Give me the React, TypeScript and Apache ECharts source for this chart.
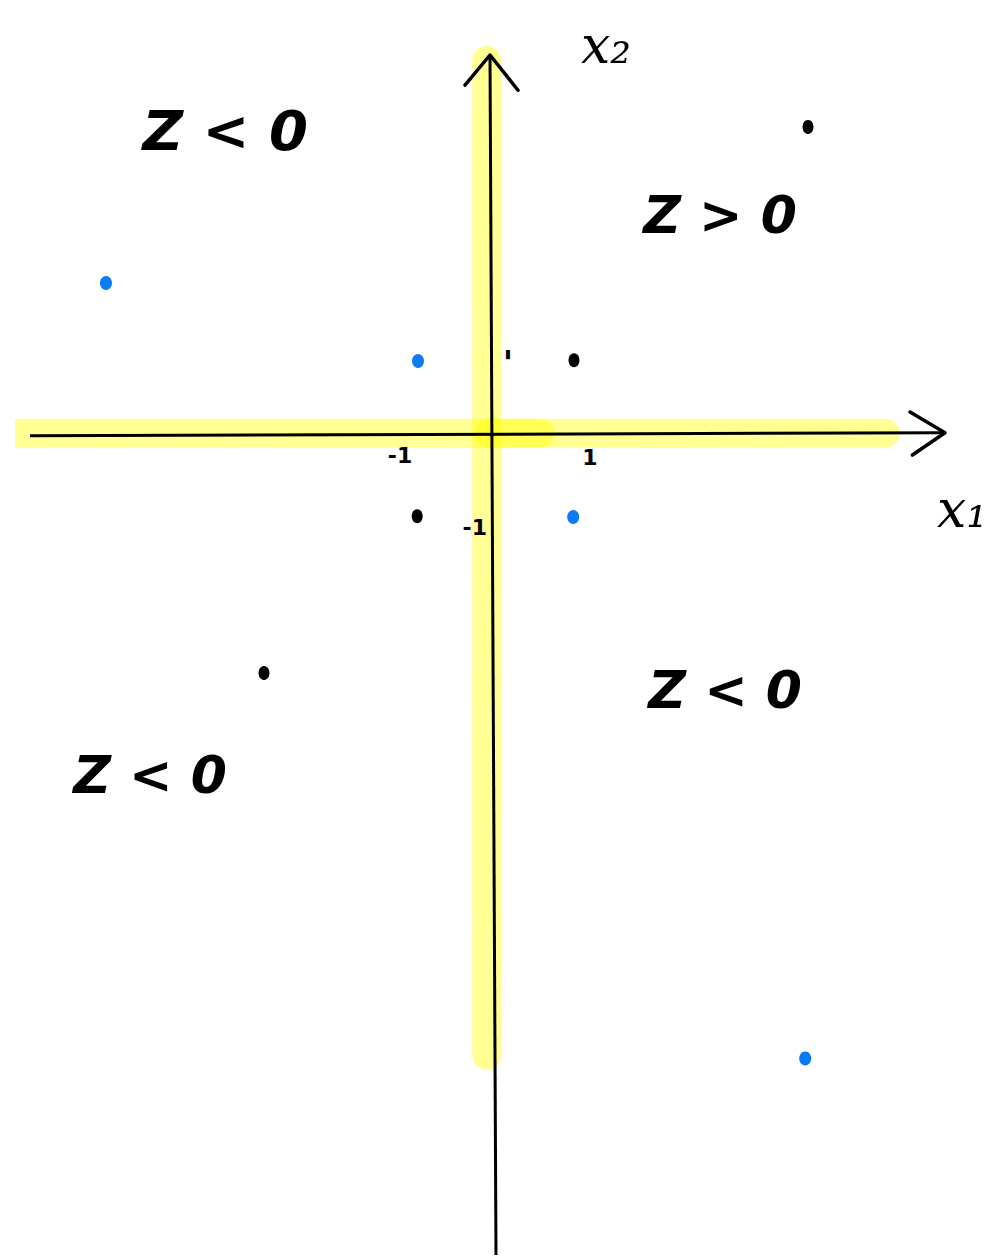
import React, { useEffect, useRef } from "react";
import * as echarts from "echarts";

// Axis extents (data units)
const xRange = [-5.75, 5.6875];
const yRange = [-10.51, 4.872];

// Data points
const blackPoints = [
  [3.975, 3.95],
  [1.05, 0.96],
  [-0.91, -1.04],
  [-2.825, -3.05],
];
const bluePoints = [
  [-4.8, 1.95],
  [-0.9, 0.95],
  [1.04, -1.05],
  [3.94, -7.99],
];

// Axis lines and arrows
const xAxisLine = [[-5.75, -0.01], [5.6875, 0.03]];
const yAxisLine = [[0.075, -10.51], [0, 4.872]];
const xArrow = [[5.25, 0.295], [5.6875, 0.03], [5.28, -0.256]];
const yArrow = [[-0.3125, 4.487], [0, 4.872], [0.35, 4.42]];

// Yellow highlighter strokes
const highlightV = [[-0.04, 4.8], [-0.04, -7.95]];
const highlightH1 = [[-5.95, 0.025], [0.63, 0.025]];
const highlightH2 = [[0.0, 0.025], [4.94, 0.025]];

// Tick labels
const tickLabels = [
  { value: [-1.125, -0.26], text: "-1", size: 22 },
  { value: [1.25, -0.29], text: "1", size: 22 },
  { value: [-0.19, -1.18], text: "-1", size: 22 },
  { value: [0.225, 0.92], text: "'", size: 34 },
];

// Region annotations
const regionLabels = [
  { value: [-3.31, 3.91], text: "Z < 0", size: 56 },
  { value: [2.875, 2.82], text: "Z > 0", size: 52 },
  { value: [2.94, -3.27], text: "Z < 0", size: 52 },
  { value: [-4.25, -4.36], text: "Z < 0", size: 52 },
];

// Axis names
const axisNames = [
  { value: [5.9, -0.95], text: "x₁", size: 52 },
  { value: [1.45, 5.0], text: "x₂", size: 52 },
];

const highlightStyle = {
  color: "rgba(255,255,0,0.42)",
  width: 29,
  cap: "round" as const,
};

function lineSeries(data: number[][], style: any, z: number) {
  return {
    type: "line",
    data,
    symbol: "none",
    clip: false,
    silent: true,
    z,
    lineStyle: style,
  };
}

function textSeries(items: { value: number[]; text: string; size: number }[], extra: any = {}) {
  return {
    type: "scatter",
    symbolSize: 0,
    clip: false,
    silent: true,
    z: 10,
    itemStyle: { opacity: 1, color: "#000" },
    data: items.map((d) => ({ value: d.value, name: d.text, label: { fontSize: d.size } })),
    label: {
      show: true,
      position: "inside",
      formatter: (p: any) => p.name,
      color: "#000000",
      opacity: 1,
      fontFamily: "DejaVu Sans",
      fontWeight: "bold",
      ...extra,
    },
  };
}

export default function App() {
  const ref = useRef<HTMLDivElement>(null);
  useEffect(() => {
    if (!ref.current) return;
    const chart = echarts.init(ref.current, null, { renderer: "svg" });
    const hiddenAxis = {
      type: "value",
      axisLine: { show: false },
      axisTick: { show: false },
      axisLabel: { show: false },
      splitLine: { show: false },
    };
    chart.setOption({
      animation: false,
      backgroundColor: "#ffffff",
      grid: { left: 30, right: 55, top: 55, bottom: 4 },
      xAxis: { ...hiddenAxis, min: xRange[0], max: xRange[1] },
      yAxis: { ...hiddenAxis, min: yRange[0], max: yRange[1] },
      series: [
        lineSeries(highlightV, highlightStyle, 1),
        lineSeries(highlightH1, highlightStyle, 1),
        lineSeries(highlightH2, highlightStyle, 1),
        lineSeries(xAxisLine, { color: "#000", width: 3 }, 5),
        lineSeries(yAxisLine, { color: "#000", width: 3 }, 5),
        lineSeries(xArrow, { color: "#000", width: 3.5, cap: "round", join: "round" }, 5),
        lineSeries(yArrow, { color: "#000", width: 3.5, cap: "round", join: "round" }, 5),
        {
          type: "scatter",
          data: blackPoints,
          symbol: "circle",
          symbolSize: [11, 14],
          itemStyle: { color: "#000000", opacity: 1 },
          z: 8,
        },
        {
          type: "scatter",
          data: bluePoints,
          symbol: "circle",
          symbolSize: [12, 14],
          itemStyle: { color: "#0A7BF2", opacity: 1 },
          z: 8,
        },
        textSeries(tickLabels),
        textSeries(regionLabels, { fontStyle: "italic" }),
        textSeries(axisNames, { fontStyle: "italic", fontFamily: "DejaVu Serif", fontWeight: "normal" }),
      ],
    });
    return () => chart.dispose();
  }, []);
  return <div ref={ref} style={{ width: 1000, height: 1259, position: "absolute", left: 0, top: 0 }} />;
}
